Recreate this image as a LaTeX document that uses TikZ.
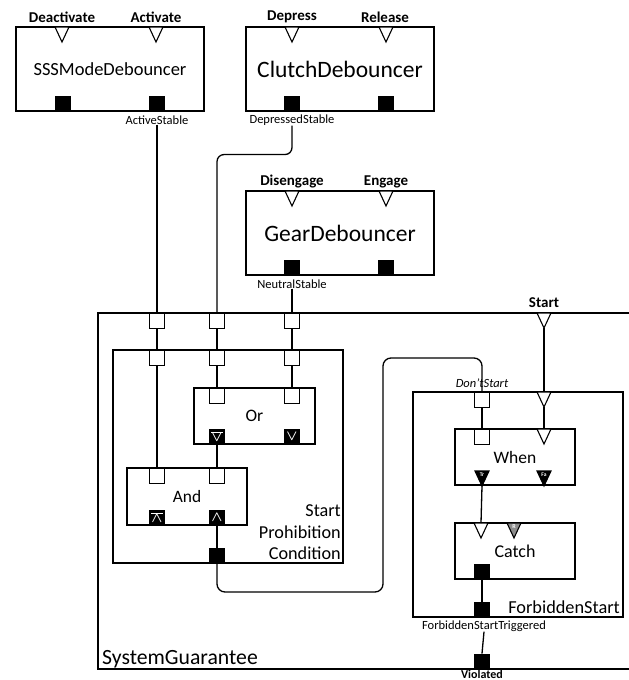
\documentclass[tikz,border=0pt]{standalone}
\usepackage{fontspec}
\setmainfont{Carlito}
\newcommand{\fsz}[1]{\fontsize{#1}{#1}\selectfont}
% triangular event port hanging from y=#3, centred on x=#2:
% (#1) is the middle of its base, (#1-tip) its lower point
\newcommand{\tport}[4][trin]{%
  \coordinate (#2) at (#3,#4);
  \coordinate (#2-tip) at (#3,#4+15);
  \draw[#1] (#3-7,#4) -- (#3+7,#4) -- (#2-tip) -- cycle;}
\begin{document}
\begin{tikzpicture}[x=1pt,y=-1pt,
  blk/.style={draw, line width=1.5pt, fill=white, inner sep=0pt},
  wire/.style={line width=1.3pt},
  inport/.style={draw, line width=1.1pt, fill=white, minimum width=15pt,
    minimum height=15pt, inner sep=0pt, anchor=north},
  outport/.style={fill=black, minimum width=16pt, minimum height=15pt,
    inner sep=0pt, anchor=south, text=white, font=\fsz{14}\boldmath},
  trin/.style={draw, line width=1.1pt, fill=white, line join=miter},
  trout/.style={trin, fill=black},
  trreset/.style={trin, fill=black!45},
  tinytext/.style={text=white, font=\fsz{5.5}\bfseries, inner sep=0pt},
  plabel/.style={font=\fsz{15}\bfseries, inner sep=0pt},
  slabel/.style={font=\fsz{12.5}, inner sep=0pt},
]
\useasboundingbox (0,0) rectangle (629,680);
\clip (0,0) rectangle (629,680);

% ---------- debouncers ----------
\node[blk, minimum width=188pt, minimum height=84pt, font=\fsz{18.5}]
  (sss) at (110,69) {SSSModeDebouncer};
\node[plabel] (lDeact) at (62,17) {Deactivate};
\node[plabel] (lAct) at (156,17) {Activate};
\tport{sssDeact}{62}{27}
\tport{sssAct}{156}{27}
\node[outport] (sssO1) at (63,111) {};
\node[outport] (sssO2) at (157,111) {};
\node[slabel] (astab) at (157,120) {ActiveStable};

\node[blk, minimum width=188pt, minimum height=84pt, font=\fsz{23.5}]
  (clutch) at (340,69) {ClutchDebouncer};
\node[plabel] (lDep) at (292,17) {Depress};
\node[plabel] (lRel) at (385,17) {Release};
\tport{clDep}{292}{27}
\tport{clRel}{386}{27}
\node[outport] (clO1) at (292,111) {};
\node[outport] (clO2) at (386,111) {};
\node[slabel] (dstab) at (292,120) {DepressedStable};

\node[blk, minimum width=188pt, minimum height=84pt, font=\fsz{23.5}]
  (gear) at (340,233) {GearDebouncer};
\node[plabel] (lDis) at (292,182) {Disengage};
\node[plabel] (lEng) at (386,182) {Engage};
\tport{grDis}{292}{191}
\tport{grEng}{386}{191}
\node[outport] (grO1) at (292,275) {};
\node[outport] (grO2) at (386,275) {};
\node[slabel] (nstab) at (292,284) {NeutralStable};

% ---------- system guarantee ----------
\node[blk, fill=none, minimum width=542pt, minimum height=356pt]
  (sg) at (369,491) {};
\node[font=\fsz{21.7}, inner sep=0pt, anchor=base west] (sgname)
  at (102,664) {SystemGuarantee};
\node[inport] (sgp1) at (157,313) {};
\node[inport] (sgp2) at (217,313) {};
\node[inport] (sgp3) at (292,313) {};
\tport{sgStart}{544}{313}
\node[plabel] (lStart) at (544,303) {Start};
\node[outport] (sgViol) at (482,669) {};
\node[font=\fsz{12}\bfseries, inner sep=0pt, anchor=base] (lViol)
  at (482,678) {Violated};

% ---------- start prohibition condition ----------
\node[blk, minimum width=230pt, minimum height=213pt] (spc) at (228,456.5) {};
\node[align=right, font=\fontsize{18.2}{21.5}\selectfont, inner sep=0pt,
  anchor=south east] (spcname) at (341,560) {Start\\Prohibition\\Condition};
\node[inport] (spc1) at (157,350) {};
\node[inport] (spc2) at (217,350) {};
\node[inport] (spc3) at (292,350) {};
\node[outport] (spcO) at (217,563) {};

\node[blk, minimum width=121pt, minimum height=56pt, font=\fsz{17.5}]
  (or) at (254.5,416) {Or};
\node[inport] (orI1) at (217,388) {};
\node[inport] (orI2) at (292,388) {};
\node[outport] (orO1) at (217,444) {$\overline{\vee}$};
\node[outport] (orO2) at (292,444) {$\vee$};

\node[blk, minimum width=120pt, minimum height=57pt, font=\fsz{17.4}]
  (and) at (187,496.5) {And};
\node[inport] (andI1) at (157,468) {};
\node[inport] (andI2) at (217,468) {};
\node[outport] (andO1) at (157,525) {$\overline{\wedge}$};
\node[outport] (andO2) at (217,525) {$\wedge$};

% ---------- forbidden start ----------
\node[blk, minimum width=210pt, minimum height=225pt] (fs) at (518,504.5) {};
\node[font=\fsz{18.3}, inner sep=0pt, anchor=base east] (fsname)
  at (620,613) {ForbiddenStart};
\node[inport] (fsDont) at (482,392) {};
\node[font=\fsz{12.5}\itshape, inner sep=0pt] (lDont) at (482,383) {Don’tStart};
\tport{fsStart}{544}{392}
\node[outport] (fsO) at (482,617) {};
\node[slabel] (fstrig) at (484,626) {ForbiddenStartTriggered};

\node[blk, minimum width=120pt, minimum height=56pt, font=\fsz{17.5}]
  (when) at (515,457) {When};
\node[inport] (whI1) at (482,429) {};
\tport{whI2}{544}{429}
\tport[trout]{whTr}{482}{471}
\tport[trout]{whFa}{544}{471}
\node[tinytext] (tTr) at (482,475) {Tr};
\node[tinytext] (tFa) at (544,475) {Fa};

\node[blk, minimum width=120pt, minimum height=56pt, font=\fsz{18}]
  (catch) at (515,551) {Catch};
\tport{caI}{481}{523}
\tport[trreset]{caR}{514}{523}
\node[tinytext, font=\fsz{6}\bfseries] (tR) at (514,527) {R};
\node[outport] (caO) at (482,579) {};

% ---------- wiring ----------
\draw[wire] (astab.south) -- (sgp1.north);
\draw[wire, rounded corners=7pt] (dstab.south) -- ++(0,29) -| (sgp2.north);
\draw[wire] (nstab.south) -- (sgp3.north);

\draw[wire] (sgp1.south) -- (spc1.north);
\draw[wire] (sgp2.south) -- (spc2.north);
\draw[wire] (sgp3.south) -- (spc3.north);

\draw[wire] (spc1.south) -- (andI1.north);
\draw[wire] (spc2.south) -- (orI1.north);
\draw[wire] (spc3.south) -- (orI2.north);
\draw[wire] (orO1.south) -- (andI2.north);
\draw[wire] (andO2.south) -- (spcO.north);

\coordinate (loopA) at (383,592);
\coordinate (loopB) at (383,358);
\draw[wire, rounded corners=8pt] (spcO.south) |- (loopA) -- (loopB) -| (fsDont.north);

\draw[wire] (fsDont.south) -- (whI1.north);
\draw[wire] (sgStart-tip) -- (fsStart);
\draw[wire, line width=2pt] (fsStart-tip) -- (whI2);
\draw[wire] (whTr-tip) -- (caI);
\draw[wire] (caO.south) -- (fsO.north);
\draw[wire] (fstrig.south) -- (sgViol.north);
\end{tikzpicture}
\end{document}
